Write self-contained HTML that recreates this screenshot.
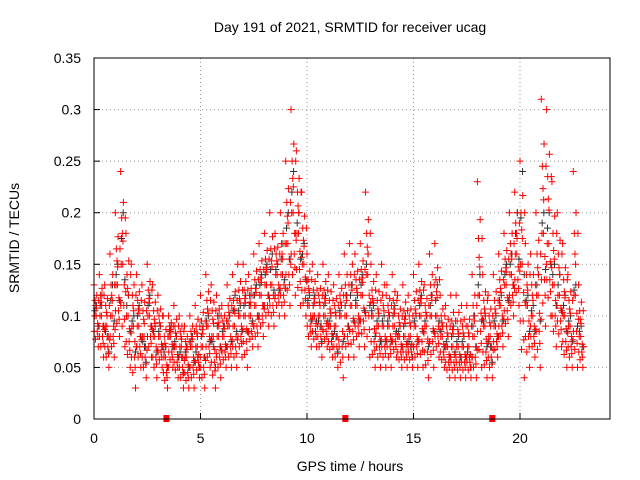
<!DOCTYPE html>
<html><head><meta charset="utf-8"><style>
body{margin:0;background:#fff}
svg{display:block;font-family:"Liberation Sans",sans-serif;font-size:14px}
</style></head><body>
<svg id="chart" width="640" height="480" viewBox="0 0 640 480">
<rect width="640" height="480" fill="#fff"/>
<text x="350" y="32" text-anchor="middle">Day 191 of 2021, SRMTID for receiver ucag</text>
<text transform="translate(19,238) rotate(-90)" text-anchor="middle">SRMTID / TECUs</text>
<text x="350" y="471" text-anchor="middle">GPS time / hours</text>
<g id="grid"></g>
<g id="ticks"></g>
<g id="pts"></g>
<rect x="94" y="58" width="516" height="361" fill="none" stroke="#000" stroke-width="1"/>
</svg>
<script>
const times=[];for(let i=0;i<92;i++)times.push(i*0.25);
const hiVals=[.13,.14,.13,.16,.2,.24,.18,.15,.14,.13,.15,.13,.12,.1,.1,.11,.1,.09,.1,.11,.12,.14,.13,.12,.11,.13,.14,.15,.15,.14,.16,.17,.18,.2,.18,.2,.25,.3,.26,.22,.16,.15,.14,.15,.14,.13,.14,.16,.17,.16,.17,.22,.15,.14,.15,.13,.14,.12,.13,.12,.14,.15,.13,.16,.17,.12,.11,.12,.12,.11,.11,.14,.23,.14,.12,.14,.16,.18,.2,.22,.25,.17,.16,.2,.31,.3,.23,.2,.17,.14,.24,.13];
const midVals=[.1,.1,.09,.1,.13,.15,.1,.09,.09,.08,.1,.08,.08,.06,.08,.07,.07,.06,.07,.07,.07,.09,.08,.08,.08,.09,.09,.1,.1,.1,.11,.12,.13,.13,.14,.14,.17,.2,.18,.15,.11,.1,.1,.1,.09,.09,.1,.1,.11,.11,.12,.14,.1,.09,.09,.09,.09,.08,.08,.08,.09,.1,.09,.1,.1,.08,.07,.07,.07,.07,.07,.08,.12,.09,.08,.09,.11,.13,.14,.16,.15,.11,.1,.12,.18,.17,.13,.12,.1,.09,.12,.08];
const loVals=[.07,.06,.05,.06,.08,.07,.05,.03,.05,.04,.06,.04,.05,.03,.05,.04,.03,.03,.03,.04,.03,.05,.03,.04,.05,.05,.05,.06,.05,.07,.07,.08,.09,.09,.1,.1,.11,.12,.11,.1,.07,.07,.06,.07,.06,.05,.04,.06,.06,.07,.07,.06,.05,.05,.05,.05,.06,.05,.05,.05,.05,.05,.04,.05,.06,.05,.04,.04,.04,.04,.04,.04,.05,.04,.04,.06,.07,.08,.1,.11,.04,.05,.06,.05,.09,.1,.07,.07,.05,.05,.05,.05];
const blackVals=[.11,.12,.08,.13,.15,.2,.12,.1,.11,.07,.12,.09,.09,.07,.09,.08,.06,.07,.08,.06,.09,.1,.07,.1,.09,.1,.12,.11,.12,.12,.13,.14,.15,.16,.15,.17,.2,.24,.2,.17,.12,.12,.09,.12,.1,.08,.11,.12,.13,.12,.14,.16,.11,.1,.1,.1,.11,.09,.1,.07,.1,.12,.1,.12,.13,.09,.08,.09,.08,.08,.06,.1,.14,.1,.07,.1,.12,.15,.16,.2,.24,.12,.11,.14,.2,.2,.15,.14,.12,.1,.13,.09];
const xTicks=[0,5,10,15,20];
const yTicks=[0,0.05,0.1,0.15,0.2,0.25,0.3,0.35];
const yTickLabels=["0","0.05","0.1","0.15","0.2","0.25","0.3","0.35"];
const markerTimes=[3.4,11.8,18.7];
const X=t=>94+t*21.3, Y=v=>419-v*(361/0.35);
const NS="http://www.w3.org/2000/svg";
const grid=document.getElementById('grid'),ticks=document.getElementById('ticks'),pts=document.getElementById('pts');
function mk(tag,at,p){const e=document.createElementNS(NS,tag);for(const k in at)e.setAttribute(k,at[k]);p.appendChild(e);return e;}
yTicks.forEach((v,i)=>{
 if(i>0&&i<yTicks.length-1){const g=mk('line',{x1:94,x2:610,y1:Y(v),y2:Y(v),stroke:'#999','stroke-dasharray':'1,3'},grid);
 
 }
 const l=mk('line',{x1:94,x2:100,y1:Y(v),y2:Y(v),stroke:'#000'},ticks);
 
 
 const t=mk('text',{x:81,y:Y(v)+5,'text-anchor':'end'},ticks);t.textContent=yTickLabels[i];
 
 
});
xTicks.forEach(v=>{
 if(v>0){const g=mk('line',{x1:X(v),x2:X(v),y1:58,y2:419,stroke:'#999','stroke-dasharray':'1,3'},grid);
 
 }
 const l=mk('line',{x1:X(v),x2:X(v),y1:413,y2:419,stroke:'#000'},ticks);
 
 
 const t=mk('text',{x:X(v),y:443,'text-anchor':'middle'},ticks);t.textContent=String(v);
 
 
});
function plus(t,v,c,name){const x=X(t),y=Y(v);
 const p=mk('path',{d:`M${x-3.5},${y}h7M${x},${y-3.5}v7`,stroke:c,'stroke-width':1,fill:'none'},pts);
 
 }
times.forEach((t,i)=>{
 plus(t+0.12,blackVals[i],'#333','black-point');
 plus(t+0.2,(blackVals[i]+loVals[i])/2,'#333','black-point');
 plus(t+0.04,(blackVals[i]+midVals[i])/2,'#333','black-point');
});
times.forEach((t,i)=>{
 const h=hiVals[i],m=midVals[i],l=loVals[i];
 [[0,h],[0.05,(h+m)/2],[0.1,m],[0.15,(m+l)/2],[0.2,l],[0.08,(h+2*m)/3],[0.18,(m+2*l)/3],[0.03,m],[0.22,(h+m)/2],
  [0.13,(2*h+m)/3],[0.07,(m+3*l)/4],[0.17,(3*m+l)/4],[0.01,(m+l)/2],[0.11,(h+3*m)/4],[0.24,(2*m+l)/3]].forEach(([o,v])=>plus(t+o,v,'#f00','red-point'));
});
markerTimes.forEach(t=>{const r=mk('rect',{x:X(t)-3,y:415,width:6,height:7,fill:'#f00'},pts);
 
 });
</script>
</body></html>
